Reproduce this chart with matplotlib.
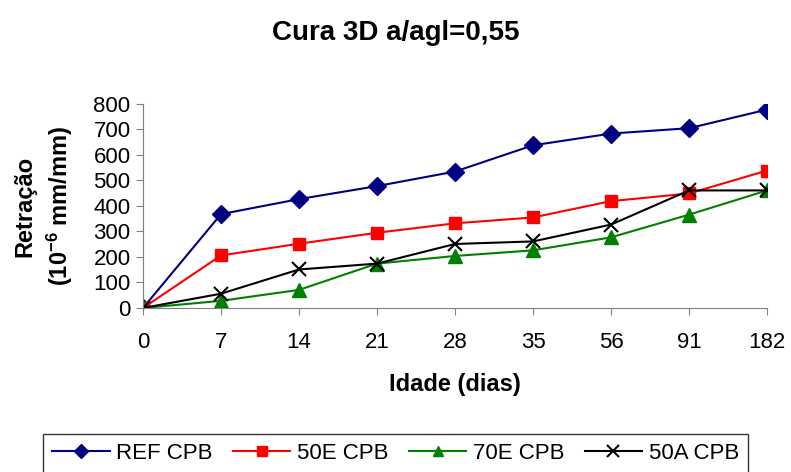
import numpy as np
import matplotlib.pyplot as plt

plt.rcParams['font.family'] = ['Liberation Sans', 'DejaVu Sans']
plt.rcParams['mathtext.default'] = 'regular'

# Dados
idades = ['0', '7', '14', '21', '28', '35', '56', '91', '182']
ref_cpb = [0, 368, 427, 478, 535, 638, 684, 705, 778]
e50_cpb = [0, 206, 252, 295, 332, 355, 419, 449, 539]
e70_cpb = [0, 28, 71, 174, 204, 226, 277, 366, 461]
a50_cpb = [0, 56, 151, 174, 251, 261, 327, 461, 461]

x = np.arange(len(idades))

fig = plt.figure(figsize=(7.91, 4.72), dpi=100)
ax = fig.add_axes([0.1808, 0.3475, 0.7889, 0.4322])

ax.plot(x, ref_cpb, color='#000080', marker='D', markersize=9, lw=1.5, label='REF CPB')
ax.plot(x, e50_cpb, color='#ff0000', marker='s', markersize=8.5, lw=1.5, label='50E CPB')
ax.plot(x, e70_cpb, color='#008000', marker='^', markersize=9.5, lw=1.5, label='70E CPB')
ax.plot(x, a50_cpb, color='black', marker='x', markersize=10, mew=1.5, lw=1.5, label='50A CPB')

ax.set_xlim(0, len(idades) - 1)
ax.set_ylim(0, 800)
ax.set_yticks(np.arange(0, 801, 100))
ax.set_xticks(x)
ax.set_xticklabels(idades)
for s in ['top', 'right']:
    ax.spines[s].set_visible(False)
for s in ['left', 'bottom']:
    ax.spines[s].set_color('#808080')
ax.tick_params(labelsize=16, color='#808080', length=5, pad=4)
ax.tick_params(axis='x', pad=12)
for lbl in ax.get_xticklabels() + ax.get_yticklabels():
    lbl.set_clip_on(False)

ax.set_xlabel('Idade (dias)', fontsize=17, fontweight='bold', labelpad=15)
fig.text(0.032, 0.5635, 'Retração', rotation=90, fontsize=17, fontweight='bold',
         ha='center', va='center')
fig.text(0.076, 0.5635, '(10$^{-6}$ mm/mm)', rotation=90, fontsize=17, fontweight='bold',
         ha='center', va='center')

fig.text(0.5, 0.93, 'Cura 3D a/agl=0,55', fontsize=20, fontweight='bold',
         ha='center', va='center')

leg = fig.legend(loc='lower center', bbox_to_anchor=(0.5, -0.025), ncol=4, fontsize=16,
                 frameon=True, fancybox=False, edgecolor='black', handlelength=2.6,
                 columnspacing=0.9, handletextpad=0.3, borderpad=0.4, markerscale=0.8)
leg.get_frame().set_linewidth(1.0)

fig.savefig('out.png', dpi=100)
